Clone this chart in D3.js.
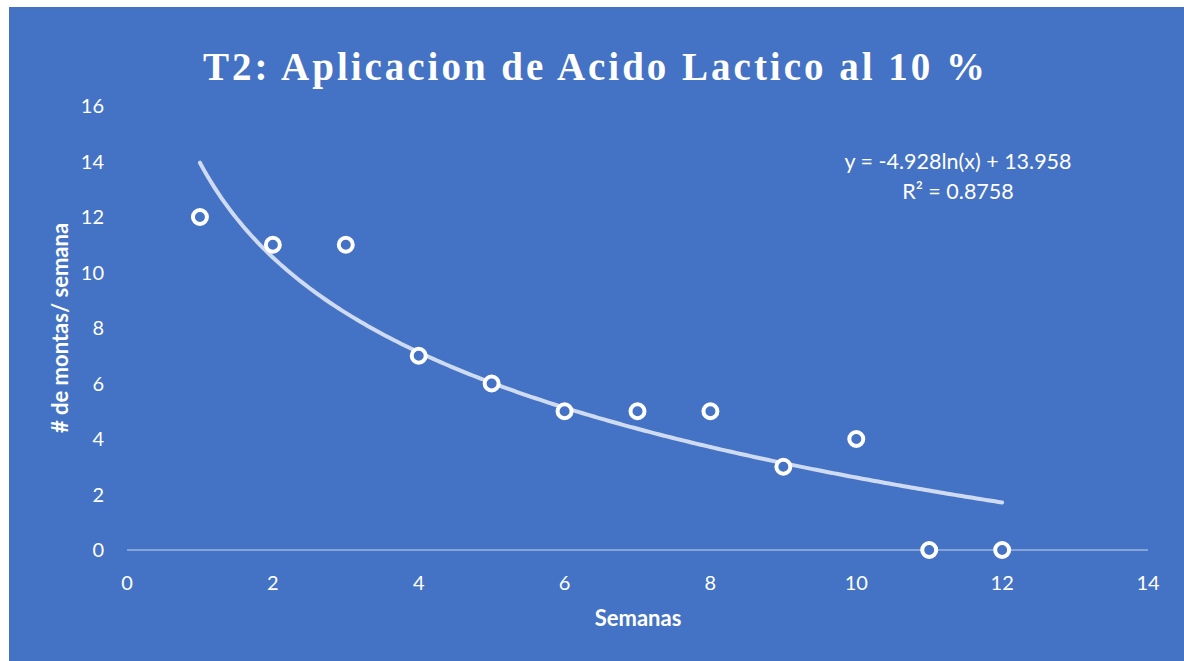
<!DOCTYPE html>
<html><head><meta charset="utf-8">
<script src="https://cdn.jsdelivr.net/npm/d3@7"></script>
<style>body{margin:0;background:#fff;}svg{display:block;}</style>
</head><body>
<svg id="c" width="1184" height="661"></svg>
<script>
const weeks = [1,2,3,4,5,6,7,8,9,10,11,12];
const mounts = [12,11,11,7,6,5,5,5,3,4,0,0];
const xTicks = [0,2,4,6,8,10,12,14];
const yTicks = [0,2,4,6,8,10,12,14,16];
const trendA = -4.928, trendB = 13.958;
const titleText = "T2: Aplicacion de Acido Lactico al 10 %";
const eqText = "y = -4.928ln(x) + 13.958";
const r2Text = "R² = 0.8758";

const svg = d3.select("#c");
svg.append("rect").attr("x",9).attr("y",7).attr("width",1175).attr("height",654).attr("fill","#4472C4");

const x = d3.scaleLinear().domain([0,14]).range([127,1148]);
const y = d3.scaleLinear().domain([0,16]).range([550,106]);
const font = "Lato, 'Open Sans', sans-serif";

// title
const t = svg.append("text").attr("x",594).attr("y",80).attr("text-anchor","middle")
  .attr("font-family","'Liberation Serif', serif").attr("font-weight","bold").attr("font-size",39)
  .attr("fill","#fff").text(titleText);
const w0 = t.node().getComputedTextLength();
const ls = (782 - w0)/(titleText.length-1);
t.attr("letter-spacing", ls).attr("x", 594 + ls/2);

// x axis line
svg.append("line").attr("x1",x(0)).attr("x2",x(14)).attr("y1",y(0)).attr("y2",y(0))
  .attr("stroke","rgba(255,255,255,0.35)").attr("stroke-width",2);

// ticks
svg.append("g").selectAll("text").data(xTicks).join("text")
  .attr("x",d=>x(d)).attr("y",590).attr("text-anchor","middle")
  .attr("font-family",font).attr("font-size",20).attr("fill","#fff").text(d=>d);
svg.append("g").selectAll("text").data(yTicks).join("text")
  .attr("x",104).attr("y",d=>y(d)+7).attr("text-anchor","end")
  .attr("font-family",font).attr("font-size",20).attr("fill","#fff").text(d=>d);

// axis titles
svg.append("text").attr("x",638).attr("y",626).attr("text-anchor","middle")
  .attr("font-family",font).attr("font-weight","bold").attr("font-size",22).attr("fill","#fff").text("Semanas");
svg.append("text").attr("transform","translate(68,328) rotate(-90)").attr("text-anchor","middle")
  .attr("font-family",font).attr("font-weight","bold").attr("font-size",22).attr("fill","#fff").text("# de montas/ semana");

// trendline
const tx = d3.range(1,12.001,0.05);
svg.append("path").datum(tx)
  .attr("d", d3.line().x(d=>x(d)).y(d=>y(trendA*Math.log(d)+trendB)))
  .attr("fill","none").attr("stroke","#CFDBF0").attr("stroke-width",4).attr("stroke-linecap","round");

// points
svg.append("g").selectAll("circle").data(weeks.map((w,i)=>[w,mounts[i]])).join("circle")
  .attr("cx",d=>x(d[0])).attr("cy",d=>y(d[1])).attr("r",7)
  .attr("fill","#4472C4").attr("stroke","#fff").attr("stroke-width",4);

// equation
svg.append("text").attr("x",958).attr("y",169).attr("text-anchor","middle")
  .attr("font-family",font).attr("font-size",21.5).attr("fill","#fff").text(eqText);
svg.append("text").attr("x",958).attr("y",199).attr("text-anchor","middle")
  .attr("font-family",font).attr("font-size",21.5).attr("fill","#fff").text(r2Text);
</script>
</body></html>
